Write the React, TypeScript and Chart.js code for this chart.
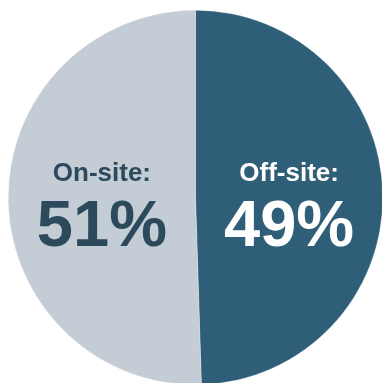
import React, { useEffect, useRef } from "react";
import { Chart, registerables } from "chart.js";

Chart.register(...registerables);

const categories = ["Off-site", "On-site"];
const values = [49.5, 50.5];
const percentLabels = ["49%", "51%"];
const sliceColors = ["#2f5e78", "#c4ccd6"];
const textColors = ["#ffffff", "#2c4a5c"];

const labelPlugin = {
  id: "sliceLabels",
  afterDatasetsDraw(chart: any) {
    const ctx = chart.ctx;
    const meta = chart.getDatasetMeta(0);
    meta.data.forEach((arc: any, i: number) => {
      const pos = arc.tooltipPosition();
      const cy = arc.y;
      ctx.save();
      ctx.fillStyle = textColors[i];
      ctx.textAlign = "center";
      ctx.textBaseline = "alphabetic";
      ctx.font = "bold 26px 'Liberation Sans', Arial, sans-serif";
      ctx.fillText(categories[i] + ":", pos.x, cy - 17);
      ctx.font = "bold 65px 'Liberation Sans', Arial, sans-serif";
      ctx.fillText(percentLabels[i], pos.x, cy + 48);
      ctx.restore();
    });
  },
};

export default function App() {
  const ref = useRef<HTMLCanvasElement | null>(null);
  useEffect(() => {
    if (!ref.current) return;
    const chart = new Chart(ref.current, {
      type: "pie",
      data: {
        labels: categories,
        datasets: [
          {
            data: values,
            backgroundColor: sliceColors,
            borderColor: "rgba(255,255,255,0.5)",
            borderWidth: 0.5,
          },
        ],
      },
      options: {
        animation: false,
        responsive: true,
        maintainAspectRatio: false,
        layout: { padding: 0 },
        plugins: {
          legend: { display: false },
          tooltip: { enabled: false },
        },
      },
      plugins: [labelPlugin],
    });
    return () => chart.destroy();
  }, []);
  return (
    <div style={{ position: "fixed", left: 8, top: 10, width: 375, height: 375 }}>
      <canvas ref={ref} />
    </div>
  );
}
